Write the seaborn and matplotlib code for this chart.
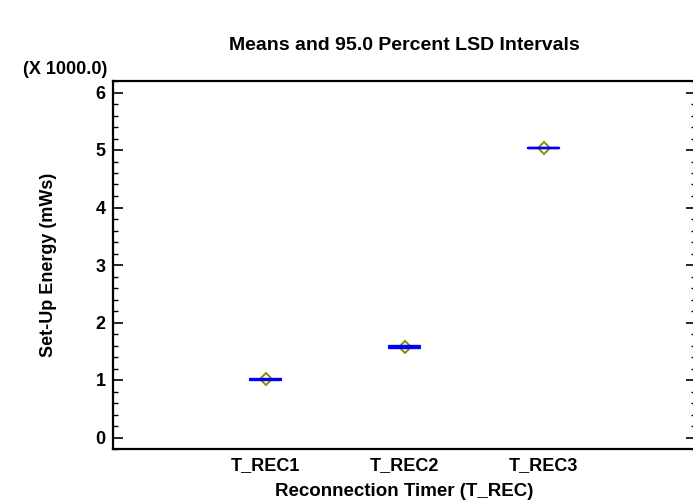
import matplotlib
matplotlib.use("Agg")
import matplotlib.pyplot as plt
from matplotlib.ticker import MultipleLocator
import seaborn as sns
import pandas as pd

# Data (Set-Up Energy, in thousands of mWs)
categories = ["T_REC1", "T_REC2", "T_REC3"]
means_k = [1.01, 1.57, 5.03]
lsd_halfwidth_k = [0.009, 0.018, 0.002]

title = "Means and 95.0 Percent LSD Intervals"
xlabel = "Reconnection Timer (T_REC)"
ylabel = "Set-Up Energy (mWs)"
scale_note = "(X 1000.0)"

sns.set_theme(style="white")
plt.rcParams["font.family"] = ["Liberation Sans", "DejaVu Sans"]
plt.rcParams["font.weight"] = "bold"
for key in ["text.color", "axes.labelcolor", "xtick.color", "ytick.color"]:
    plt.rcParams[key] = "black"

rows = []
for c, m, h in zip(categories, means_k, lsd_halfwidth_k):
    rows.append({"group": c, "value": m - h})
    rows.append({"group": c, "value": m + h})
df = pd.DataFrame(rows)

fig = plt.figure(figsize=(6.93, 5.04), dpi=100)
ax = fig.add_axes([112.7 / 693, 1 - 449 / 504, (696.4 - 112.7) / 693, (449 - 81) / 504])

sns.pointplot(data=df, x="group", y="value", order=categories,
              estimator="mean", errorbar=("pi", 100), capsize=0.22,
              linestyle="none", marker="D", markersize=5.8,
              markerfacecolor="none", markeredgecolor="#8c8c00",
              markeredgewidth=1.4, color="#8c8c00",
              err_kws={"color": "#0000ff", "linewidth": 1.7, "zorder": 4},
              ax=ax)

ax.set_xlim(-1.1, 3.1)
ax.set_ylim(-0.2, 6.2)
ax.yaxis.set_major_locator(MultipleLocator(1))
ax.yaxis.set_minor_locator(MultipleLocator(0.2))
ax.tick_params(axis="y", which="major", direction="in", length=7, width=1.2,
               left=True, right=True, labelsize=13, pad=5, colors="black")
ax.tick_params(axis="y", which="minor", direction="in", length=3.5, width=1.0,
               left=True, right=True, colors="black")
ax.tick_params(axis="x", length=0, labelsize=13, pad=6, colors="black")
for lab in ax.get_xticklabels() + ax.get_yticklabels():
    lab.set_fontweight("bold")
for sp in ax.spines.values():
    sp.set_linewidth(1.6)
    sp.set_color("black")

ax.set_xlabel(xlabel, fontsize=13.5, fontweight="bold", color="black")
ax.set_ylabel(ylabel, fontsize=13, fontweight="bold", color="black")
ax.xaxis.set_label_coords((404.5 - 112.7) / 583.7, (449 - 492) / 368)
ax.yaxis.set_label_coords((48 - 112.7) / 583.7, 0.5)
ax.xaxis.label.set_va("center")
ax.yaxis.label.set_va("center")

fig.text(404.5 / 693, 1 - 46 / 504, title, ha="center", va="center",
         fontsize=14, fontweight="bold", color="black")
fig.text(107 / 693, 1 - 70 / 504, scale_note, ha="right", va="center",
         fontsize=13, fontweight="bold", color="black")

fig.savefig("out.png", dpi=100)
